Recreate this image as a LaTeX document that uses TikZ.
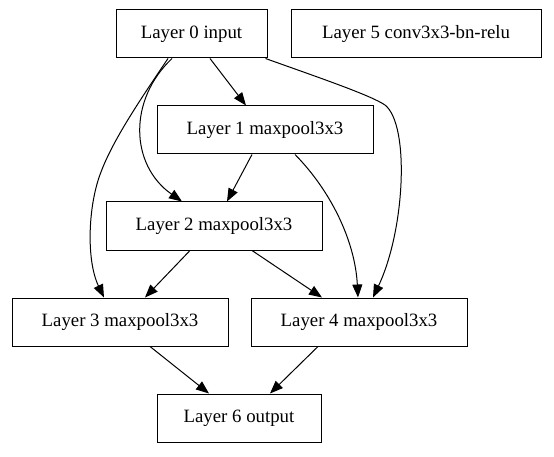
\documentclass[tikz,border=0pt]{standalone}
\usepackage{fontspec}
\setmainfont{Liberation Serif}
\usetikzlibrary{arrows.meta}
\begin{document}
\begin{tikzpicture}[x=1pt,y=-1pt,
  box/.style={draw,line width=1pt,inner sep=0pt,font=\fontsize{18.8}{22}\selectfont,minimum height=48pt},
  edge/.style={line width=1pt,-{Triangle[length=13pt,width=10pt]}}]
\useasboundingbox (0,0) rectangle (554,457);
\node[box,minimum width=151pt] (n0) at (191.5,34) {Layer 0 input};
\node[box,minimum width=250pt] (n5) at (416,34) {Layer 5 conv3x3-bn-relu};
\node[box,minimum width=216pt] (n1) at (265,130) {Layer 1 maxpool3x3};
\node[box,minimum width=216pt] (n2) at (214,226) {Layer 2 maxpool3x3};
\node[box,minimum width=216pt] (n3) at (120,322) {Layer 3 maxpool3x3};
\node[box,minimum width=216pt] (n4) at (359,322) {Layer 4 maxpool3x3};
\node[box,minimum width=164pt] (n6) at (239,418) {Layer 6 output};
% edges
\draw[edge] ([xshift=18.5pt]n0.south) -- ([xshift=-19pt]n1.north);
\draw[edge] ([xshift=-19.5pt]n0.south) .. controls (128,100) and (130,165) .. ([xshift=-32pt]n2.north);
\draw[edge] ([xshift=-23.5pt]n0.south) .. controls (140,100) and (113,140) .. (101,172) .. controls (88,205) and (86,260) .. ([xshift=-16pt]n3.north);
\draw[edge] ([xshift=-2pt]n0.south east) .. controls (320,78) and (370,95) .. (385,105) .. controls (410,125) and (405,230) .. ([xshift=14pt]n4.north);
\draw[edge] ([xshift=-13pt]n1.south) -- ([xshift=13pt]n2.north);
\draw[edge] ([xshift=30pt]n1.south) .. controls (330,190) and (355,240) .. ([xshift=-1pt]n4.north);
\draw[edge] ([xshift=-24pt]n2.south) -- ([xshift=25pt]n3.north);
\draw[edge] ([xshift=38pt]n2.south) -- ([xshift=-37pt]n4.north);
\draw[edge] ([xshift=30pt]n3.south) -- ([xshift=-30pt]n6.north);
\draw[edge] ([xshift=-41pt]n4.south) -- ([xshift=31pt]n6.north);
\end{tikzpicture}
\end{document}
